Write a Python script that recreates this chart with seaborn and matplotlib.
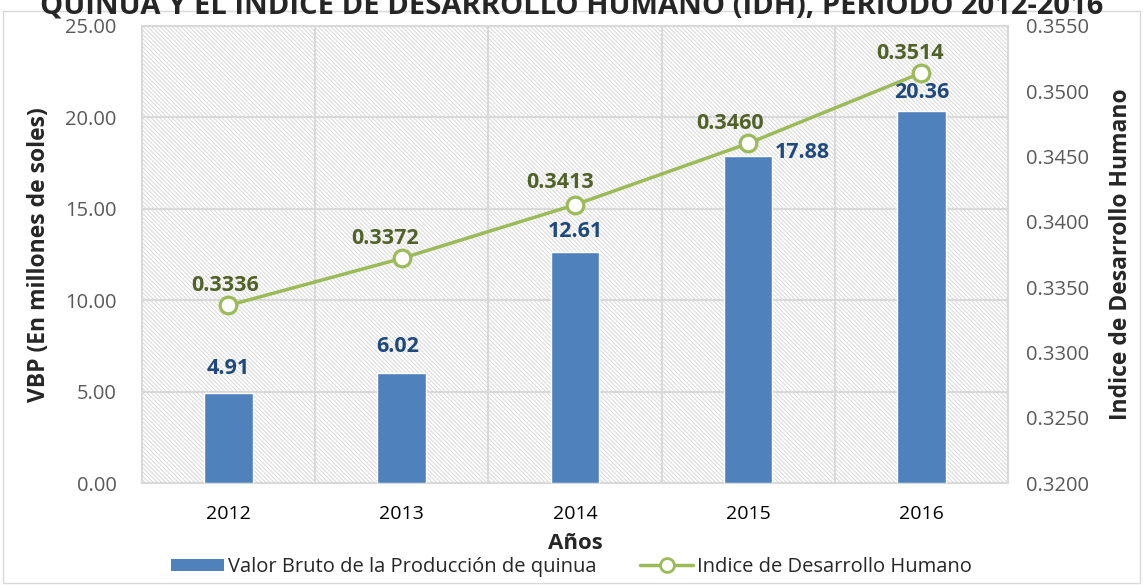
import matplotlib.pyplot as plt
import seaborn as sns
import pandas as pd
from matplotlib.patches import Rectangle, Patch
from matplotlib.lines import Line2D

years = ['2012', '2013', '2014', '2015', '2016']
vbp = [4.91, 6.02, 12.61, 17.88, 20.36]
idh = [0.3336, 0.3372, 0.3413, 0.3460, 0.3514]

df = pd.DataFrame({'anio': years, 'vbp': vbp, 'idh': idh})

sns.set_style('white')
plt.rcParams['font.family'] = ['Open Sans', 'DejaVu Sans']
plt.rcParams['hatch.color'] = '#dcdcdc'
plt.rcParams['hatch.linewidth'] = 0.8

fig = plt.figure(figsize=(11.43, 5.85), dpi=100)
ax = fig.add_axes([0.124, 0.174, 0.758, 0.782])

# fondo rayado
ax.add_patch(Rectangle((0, 0), 1, 1, transform=ax.transAxes, facecolor='white',
                       edgecolor='#dcdcdc', hatch='\\' * 8, lw=0, zorder=0))

sns.barplot(data=df, x='anio', y='vbp', color='#4F81BD', width=0.28,
            saturation=1, ax=ax, zorder=3)
ax.set_ylim(0, 25)
ax.set_yticks([0, 5, 10, 15, 20, 25])
ax.set_yticklabels([f'{v:.2f}' for v in [0, 5, 10, 15, 20, 25]])
ax.yaxis.grid(True, color='#d9d9d9', lw=1.5, zorder=1)
ax.xaxis.grid(False)
for x in [0.5, 1.5, 2.5, 3.5]:
    ax.axvline(x, color='#d9d9d9', lw=1.5, zorder=1)
ax.set_axisbelow(True)
for s in ax.spines.values():
    s.set_color('#d9d9d9')
    s.set_linewidth(1.5)
ax.tick_params(axis='y', length=0, labelsize=14.5, colors='#595959', pad=18)
ax.tick_params(axis='x', length=0, labelsize=14, colors='black', pad=16)
ax.set_xlabel('Años', fontsize=16, fontweight='bold', labelpad=7)
ax.set_ylabel('VBP (En millones de soles)', fontsize=16.5, fontweight='bold', labelpad=10)

bar_off = [(0, 25), (-4, 27), (0, 21), (54, 4), (0, 18)]
for i, v in enumerate(vbp):
    ax.annotate(f'{v:.2f}', (i, v), xytext=bar_off[i], textcoords='offset pixels',
                ha='center', va='center', fontsize=15.5, fontweight='bold',
                color='#1F497D', zorder=5)

ax2 = ax.twinx()
sns.lineplot(data=df, x='anio', y='idh', color='#9BBB59', lw=2.5, marker='o',
             markersize=12, markerfacecolor='white', markeredgecolor='#9BBB59',
             markeredgewidth=2.3, ax=ax2, zorder=4)
ax2.set_ylim(0.32, 0.355)
ax2.set_yticks([0.32 + 0.005 * i for i in range(8)])
ax2.set_yticklabels([f'{0.32 + 0.005 * i:.4f}' for i in range(8)])
ax2.tick_params(axis='y', length=0, labelsize=14.5, colors='#595959', pad=13)
ax2.set_ylabel('Indice de Desarrollo Humano', fontsize=16.5, fontweight='bold', labelpad=14)
ax2.set_xlabel('')
for s in ax2.spines.values():
    s.set_visible(False)
ax.set_xlim(-0.5, 4.5)

idh_off = [(-3, 20), (-17, 20), (-15, 22), (-18, 20), (-11, 19)]
for i, v in enumerate(idh):
    ax2.annotate(f'{v:.4f}', (i, v), xytext=idh_off[i], textcoords='offset pixels',
                 ha='center', va='center', fontsize=15.5, fontweight='bold',
                 color='#4F6228', zorder=6)

handles = [Patch(facecolor='#4F81BD', edgecolor='none'),
           Line2D([], [], color='#9BBB59', lw=2.5, marker='o', markersize=10,
                  markerfacecolor='white', markeredgewidth=2)]
fig.legend(handles, ['Valor Bruto de la Producción de quinua', 'Indice de Desarrollo Humano'],
           loc='center', bbox_to_anchor=(0.5, 1 - 567 / 585), ncol=2, frameon=False,
           fontsize=14.5, handlelength=2.6, handleheight=0.6, columnspacing=2.2,
           handletextpad=0.2, borderpad=0)

fig.text(0.5, 1 - 13 / 585, 'QUINUA Y EL ÍNDICE DE DESARROLLO HUMANO (IDH), PERIODO 2012-2016',
         ha='center', va='baseline', fontsize=21, fontweight='bold')
fig.add_artist(Rectangle((0.003, 0.003), 0.994, 0.978, transform=fig.transFigure,
                         fill=False, edgecolor='#d9d9d9', lw=1))

fig.savefig('out.png', dpi=100)
